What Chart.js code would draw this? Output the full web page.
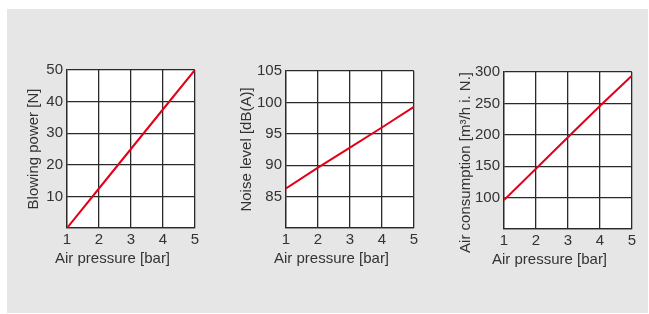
<!DOCTYPE html>
<html>
<head>
<meta charset="utf-8">
<script src="https://cdn.jsdelivr.net/npm/chart.js@4"></script>
<style>
  body { margin: 0; background: #fff; }
  #panel { position: absolute; left: 7px; top: 9px; width: 641px; height: 304px; background: #e6e6e6; }
  .box { position: absolute; }
</style>
</head>
<body>
<div id="panel"></div>
<div class="box" style="left:25px;top:57px;width:177px;height:211px"><canvas id="c1"></canvas></div>
<div class="box" style="left:238px;top:58px;width:183px;height:210px"><canvas id="c2"></canvas></div>
<div class="box" style="left:457px;top:59px;width:182px;height:210px"><canvas id="c3"></canvas></div>
<script>
// valores
const pressure = [1, 2, 3, 4, 5];
const blowingPower = [0, 12.5, 25, 37.5, 50];
const noiseLevel = [86.3, 89.6, 92.8, 96.0, 99.3];
const airConsumption = [96, 146, 196, 246, 294];

const powerTicks = [0, 10, 20, 30, 40, 50];
const noiseTicks = [80, 85, 90, 95, 100, 105];
const airTicks = [50, 100, 150, 200, 250, 300];

const xTitle = 'Air pressure [bar]';
const ink = '#333';
const gridColor = '#2a2a2a';

// fondo blanco del area y titulo del eje x
const panelPlugin = {
  id: 'panel',
  beforeDraw(chart) {
    const { ctx, chartArea: a } = chart;
    ctx.save();
    ctx.fillStyle = '#fff';
    ctx.fillRect(a.left, a.top, a.width, a.height);
    ctx.restore();
  },
  afterDraw(chart, args, opts) {
    const { ctx, chartArea: a } = chart;
    ctx.save();
    ctx.font = '15px "Liberation Sans"';
    ctx.fillStyle = ink;
    ctx.textBaseline = 'middle';
    ctx.fillText(opts.text, a.left - 12, a.bottom + 31);
    ctx.restore();
  }
};

function makeChart(id, values, yTicks, yTitle, yWidth, titleAlign) {
  const ctx = document.getElementById(id).getContext('2d');
  return new Chart(ctx, {
    type: 'line',
    data: {
      datasets: [{
        data: pressure.map((p, i) => ({ x: p, y: values[i] })),
        borderColor: '#e2001a',
        borderWidth: 2,
        pointRadius: 0,
        tension: 0
      }]
    },
    plugins: [panelPlugin],
    options: {
      responsive: true,
      maintainAspectRatio: false,
      animation: false,
      layout: { padding: { bottom: 19 } },
      scales: {
        x: {
          type: 'linear',
          min: pressure[0],
          max: pressure[pressure.length - 1],
          ticks: { stepSize: 1, color: ink, font: { family: 'Liberation Sans', size: 15 }, padding: 3 },
          grid: { color: gridColor, lineWidth: 1.3, drawTicks: false },
          border: { color: gridColor, width: 1.3 },
          afterFit: s => { s.height = 21; }
        },
        y: {
          type: 'linear',
          min: yTicks[0],
          max: yTicks[yTicks.length - 1],
          afterBuildTicks: s => { s.ticks = yTicks.map(v => ({ value: v })); },
          ticks: {
            color: ink,
            font: { family: 'Liberation Sans', size: 15 },
            padding: 4,
            callback: v => (v === yTicks[0] ? '' : v)
          },
          grid: { color: gridColor, lineWidth: 1.3, drawTicks: false },
          border: { color: gridColor, width: 1.3 },
          title: {
            display: true,
            text: yTitle,
            color: ink,
            align: titleAlign,
            padding: 0,
            font: { family: 'Liberation Sans', size: 15 }
          },
          afterFit: s => { s.width = yWidth; }
        }
      },
      plugins: {
        legend: { display: false },
        tooltip: { enabled: false },
        panel: { text: xTitle }
      }
    }
  });
}

makeChart('c1', blowingPower, powerTicks, 'Blowing power [N]', 42, 'center');
makeChart('c2', noiseLevel, noiseTicks, 'Noise level [dB(A)]', 48, 'center');
makeChart('c3', airConsumption, airTicks, 'Air consumption [m³/h i. N.]', 47, 'end');
</script>
</body>
</html>
